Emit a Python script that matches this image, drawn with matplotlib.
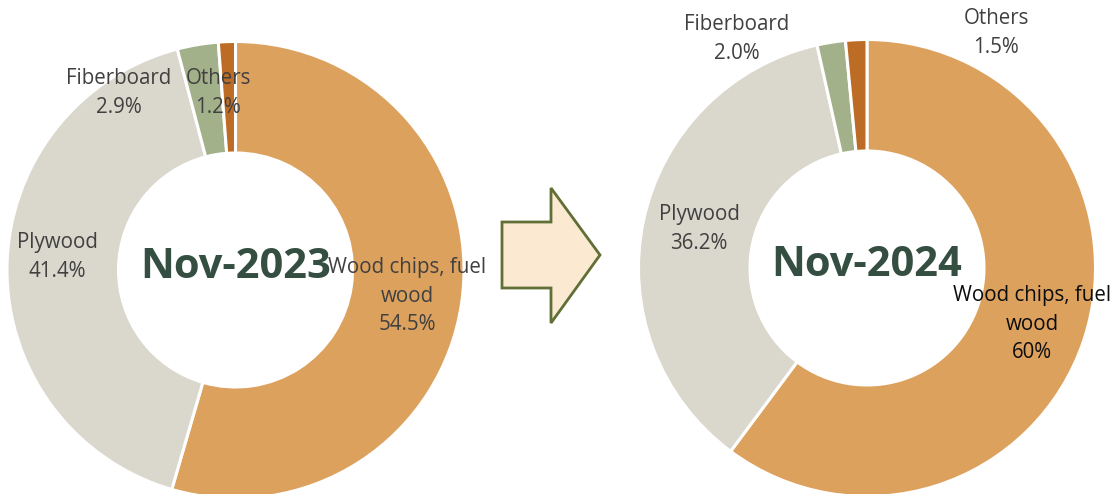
import matplotlib.pyplot as plt
from matplotlib.patches import Polygon

# data
categories = ["Wood chips, fuel\nwood", "Plywood", "Fiberboard", "Others"]
shares_2023 = [54.5, 41.4, 2.9, 1.2]
shares_2024 = [60.0, 36.2, 2.0, 1.5]
pct_2023 = ["54.5%", "41.4%", "2.9%", "1.2%"]
pct_2024 = ["60%", "36.2%", "2.0%", "1.5%"]
titles = ["Nov-2023", "Nov-2024"]

colores = ["#DDA15E", "#DAD7CC", "#A3B18A", "#BC6C25"]

W, H = 1117, 494
fig = plt.figure(figsize=(W / 100, H / 100), dpi=100)
ax = fig.add_axes([0, 0, 1, 1])

def py(y):
    # pixel y (desde arriba) a coordenada de datos
    return H - y

R = 228.5
r_in = 117
centros = [(235.5, py(270)), (867, py(268))]

# posiciones de etiquetas en pixeles (centro del bloque)
pos_etiquetas = [
    [(407, 296), (57, 257), (119, 93), (218, 93)],
    [(1032, 324), (699, 229), (737, 39), (996, 33)],
]
color_texto = [
    ["#404040", "#404040", "#404040", "#404040"],
    ["#0D0D0D", "#404040", "#404040", "#404040"],
]

for i, (valores, pcts) in enumerate([(shares_2023, pct_2023), (shares_2024, pct_2024)]):
    cx, cy = centros[i]
    ax.pie(valores, center=(cx, cy), radius=R, startangle=90, counterclock=False,
           colors=colores,
           wedgeprops=dict(width=R - r_in, edgecolor="white", linewidth=2.2))
    for j, cat in enumerate(categories):
        x, y = pos_etiquetas[i][j]
        ax.text(x, py(y), cat + "\n" + pcts[j], ha="center", va="center",
                fontsize=14.8, family="Open Sans", color=color_texto[i][j],
                linespacing=1.5)
    ax.text(cx, cy + 2, titles[i], ha="center", va="center", fontsize=30,
            family="Open Sans", fontweight="bold", color="#344E41")

# flecha entre los dos anillos
flecha = [(502, 222), (551, 222), (551, 188), (600, 255), (551, 323), (551, 288), (502, 288)]
ax.add_patch(Polygon([(x, py(y)) for x, y in flecha], closed=True,
                     facecolor="#FBE9D2", edgecolor="#5F6F35", linewidth=2))

ax.set_xlim(0, W)
ax.set_ylim(0, H)
ax.set_aspect("equal")
ax.axis("off")

fig.savefig("out.png", dpi=100)
